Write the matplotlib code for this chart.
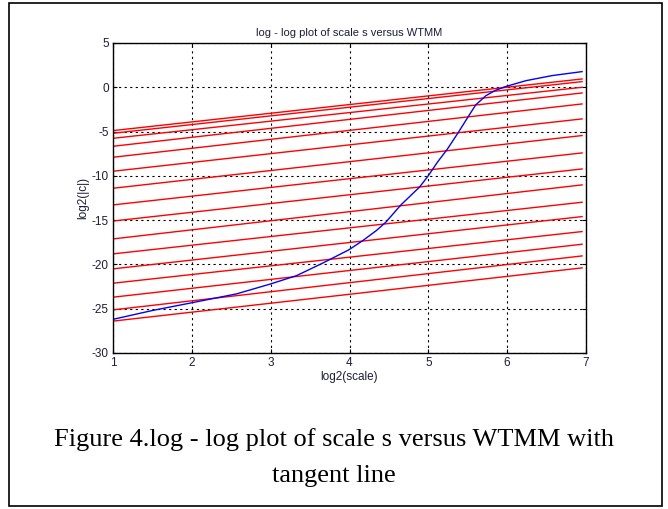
import numpy as np
import matplotlib.pyplot as plt
from matplotlib.patches import Rectangle

plt.rcParams['axes.unicode_minus'] = False

# blue WTMM curve
wtmm_x = [1.0, 1.5, 1.97, 2.57, 3.0, 3.33, 3.66, 3.99, 4.17, 4.34, 4.46, 4.65, 4.89,
          4.99, 5.12, 5.24, 5.38, 5.5, 5.6, 5.73, 5.85, 5.98, 6.24, 6.57, 6.95]
wtmm_y = [-26.2, -25.2, -24.38, -23.32, -22.2, -21.26, -19.85, -18.36, -17.3, -16.18,
          -15.24, -13.3, -11.25, -10.1, -8.4, -7.0, -5.1, -3.4, -2.0,
          -0.95, -0.35, 0.08, 0.75, 1.32, 1.77]

# tangent lines: value at the left end and at the right end
tan_x = [1.0, 6.95]
tan_start = [-4.89, -5.19, -5.76, -6.66, -7.90, -9.48, -11.40, -13.28,
             -15.1, -17.12, -18.81, -20.5, -22.12, -23.70, -25.13, -26.4]
tan_end = [0.94, 0.64, 0.0, -0.64, -1.88, -3.57, -5.45, -7.41,
           -9.22, -11.02, -12.98, -14.60, -16.29, -17.72, -19.04, -20.39]

x_ticks = [1, 2, 3, 4, 5, 6, 7]
y_ticks = [-30, -25, -20, -15, -10, -5, 0, 5]

txt = '#1c1c3c'

fig = plt.figure(figsize=(6.68, 5.09), dpi=100)
fig.patches.append(Rectangle((9 / 668, 3 / 509), 653 / 668, 503 / 509,
                             transform=fig.transFigure, fill=False,
                             edgecolor='black', linewidth=1.2))

ax = fig.add_axes([113 / 668, 1 - 353 / 509, 473 / 668, 310 / 509])

for a, b in zip(tan_start, tan_end):
    ax.plot(tan_x, [a, b], color='red', linewidth=1)
ax.plot(wtmm_x, wtmm_y, color='blue', linewidth=1)

ax.set_xlim(1, 7)
ax.set_ylim(-30, 5)
ax.set_xticks(x_ticks)
ax.set_yticks(y_ticks)
ax.grid(True, color='black', linestyle=(0, (2, 3)), linewidth=0.8)
ax.tick_params(direction='in', length=3, top=True, right=True,
               labelsize=8.5, labelcolor=txt, pad=3)
for lab in ax.get_xticklabels() + ax.get_yticklabels():
    lab.set_fontfamily('Liberation Sans')
for s in ax.spines.values():
    s.set_linewidth(1)

ax.set_title('log - log plot of scale s versus WTMM', fontsize=8,
             family='Liberation Sans', color=txt, pad=5)
ax.set_xlabel('log2(scale)', fontsize=8.5, family='Liberation Sans', color=txt, labelpad=1)
ax.set_ylabel('log2(|c|)', fontsize=8.5, family='Liberation Sans', color=txt, labelpad=2)

fig.text(0.5, 1 - 440 / 509, 'Figure 4.log - log plot of scale s versus WTMM with',
         ha='center', va='center', fontsize=19, family='Liberation Serif')
fig.text(0.5, 1 - 476 / 509, 'tangent line',
         ha='center', va='center', fontsize=19, family='Liberation Serif')

plt.savefig('out.png', dpi=100)
